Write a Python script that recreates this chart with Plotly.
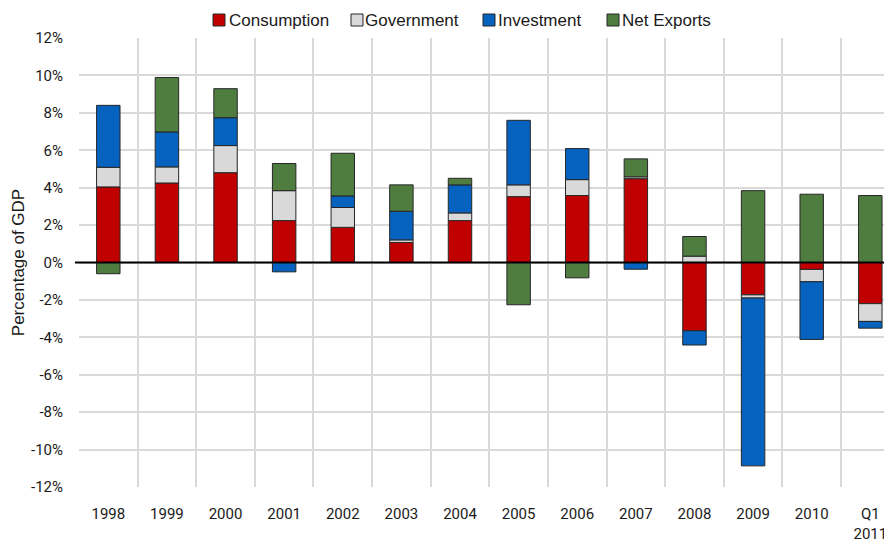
import plotly.graph_objects as go

categories = ["1998", "1999", "2000", "2001", "2002", "2003", "2004",
              "2005", "2006", "2007", "2008", "2009", "2010", "Q1<br>2011"]
consumption = [4.04, 4.25, 4.80, 2.24, 1.88, 1.07, 2.24, 3.52, 3.58, 4.48, -3.65, -1.73, -0.37, -2.20]
government = [1.05, 0.86, 1.45, 1.60, 1.06, 0.14, 0.41, 0.63, 0.85, 0.10, 0.34, -0.17, -0.66, -0.95]
investment = [3.31, 1.87, 1.49, -0.50, 0.62, 1.53, 1.50, 3.45, 1.66, -0.36, -0.76, -8.97, -3.08, -0.36]
net_exports = [-0.60, 2.91, 1.55, 1.45, 2.28, 1.41, 0.35, -2.26, -0.82, 0.96, 1.05, 3.84, 3.65, 3.58]
y_ticks = [-12, -10, -8, -6, -4, -2, 0, 2, 4, 6, 8, 10, 12]
y_tick_labels = [f"{v}%" for v in y_ticks]

series_names = ["Consumption", "Government", "Investment", "Net Exports"]
series_values = [consumption, government, investment, net_exports]
series_colors = ["#C00000", "#D9D9D9", "#0562BF", "#4F7D40"]

# page body has an 8px default margin; compensate so the plot lands where the reference has it
OFF = 8
W, H = 892 - OFF, 543 - OFF
PL, PR, PT, PB = 79, 892, 38, 487          # target plot area in screen pixels
ML, MR, MT, MB = PL - OFF, 892 - PR, PT - OFF, 543 - PB
PW, PH = PR - PL, PB - PT

fig = go.Figure()
for name, vals, color in zip(series_names, series_values, series_colors):
    fig.add_trace(go.Bar(
        x=categories, y=vals, name=name, width=0.4,
        marker=dict(color=color, line=dict(color="#262626", width=1)),
        showlegend=False,
    ))

legend_font = "Liberation Sans, Arial, sans-serif"
tick_font = "Roboto, sans-serif"

# custom legend (layout decoration, screen pixel positions converted to paper coords)
legend_swatch_px = [213, 351, 483, 607]
legend_text_px = [227, 363, 496, 620]
def px_x(px):
    return (px - PL) / PW
def px_y(py):
    return (PB - py) / PH
for name, color, sx, tx in zip(series_names, series_colors, legend_swatch_px, legend_text_px):
    fig.add_shape(type="rect", xref="paper", yref="paper",
                  x0=px_x(sx), x1=px_x(sx + 12), y0=px_y(26), y1=px_y(14),
                  fillcolor=color, line=dict(color="#262626", width=1))
    fig.add_annotation(xref="paper", yref="paper", x=px_x(tx), y=px_y(20.5),
                       xanchor="left", yanchor="middle", showarrow=False,
                       text=name, font=dict(family=legend_font, size=17, color="#1a1a1a"))

fig.update_layout(
    barmode="relative",
    width=W, height=H,
    margin=dict(l=ML, r=MR, t=MT, b=MB, autoexpand=False),
    plot_bgcolor="white", paper_bgcolor="white",
    font=dict(family=tick_font, size=15, color="#1a1a1a"),
    showlegend=False,
)
fig.update_xaxes(
    type="category", range=[-0.5, 13.37], tickson="boundaries",
    showgrid=True, gridcolor="#D9D9D9", gridwidth=1.5,
    ticks="", showline=False, ticklabelstandoff=16, automargin=False,
    tickfont=dict(family=tick_font, size=15, color="#1a1a1a"),
)
fig.update_yaxes(
    range=[-12, 12], tickvals=y_ticks, ticktext=y_tick_labels,
    showgrid=True, gridcolor="#D9D9D9", gridwidth=1.5,
    zeroline=False, showline=False, ticks="", ticklabelstandoff=15, automargin=False,
    title=dict(text="Percentage of GDP", font=dict(family=legend_font, size=17, color="#1a1a1a"),
               standoff=2),
    tickfont=dict(family=tick_font, size=15, color="#1a1a1a"),
)
fig.add_shape(type="line", xref="paper", yref="y", x0=-0.005, x1=1, y0=0, y1=0,
              line=dict(color="black", width=2), layer="above")

fig.write_html("out.html")
